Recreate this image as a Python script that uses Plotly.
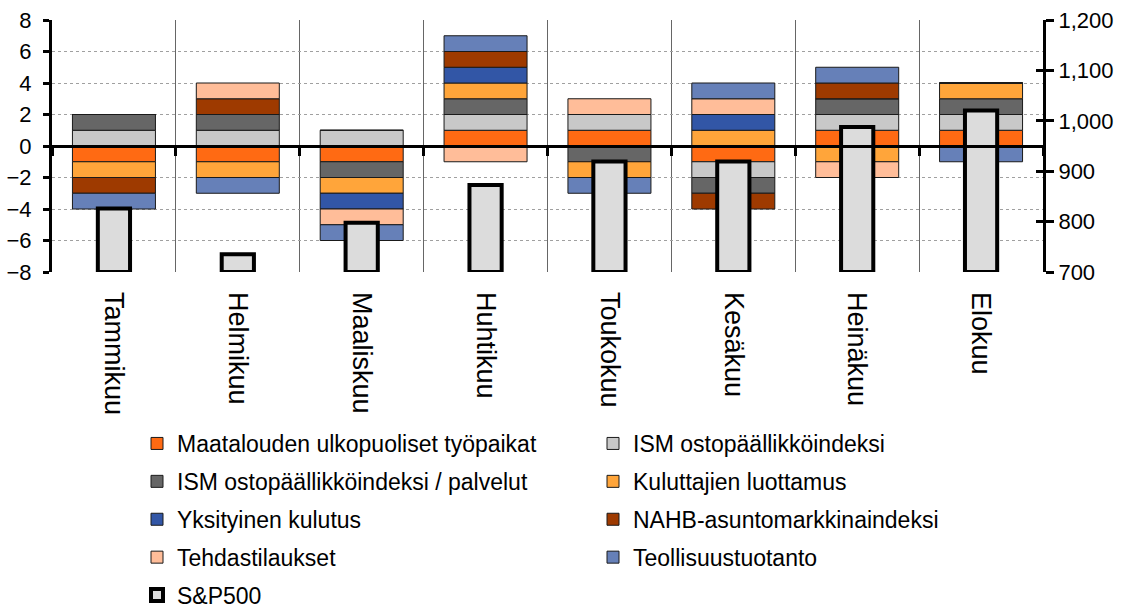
import plotly.graph_objects as go

# Months
months = ["Tammikuu", "Helmikuu", "Maaliskuu", "Huhtikuu",
          "Toukokuu", "Kesäkuu", "Heinäkuu", "Elokuu"]

# Surprise direction of each indicator per month (+1 / -1 / 0)
maatalouden = [-1, -1, -1, 1, 1, -1, 1, 1]
ism = [1, 1, 1, 1, 1, -1, 1, 1]
ism_palvelut = [1, 1, -1, 1, -1, -1, 1, 1]
kuluttajat = [-1, -1, -1, 1, -1, 1, -1, 1]
yksityinen = [0, 0, -1, 1, 0, 1, 0, 0]
nahb = [-1, 1, 0, 1, 0, -1, 1, 0]
tehdas = [0, 1, -1, -1, 1, 1, -1, 0]
teollisuus = [-1, -1, -1, 1, -1, 1, 1, -1]

# S&P500 month-end level (right axis)
sp500 = [825.88, 735.09, 797.87, 872.81, 919.14, 919.32, 987.48, 1020.62]
sp_base = 700

series = [
    ("Maatalouden ulkopuoliset työpaikat", maatalouden, "#FF6A13", "legend"),
    ("ISM ostopäällikköindeksi", ism, "#C8C8C8", "legend2"),
    ("ISM ostopäällikköindeksi / palvelut", ism_palvelut, "#666666", "legend"),
    ("Kuluttajien luottamus", kuluttajat, "#FFA53A", "legend2"),
    ("Yksityinen kulutus", yksityinen, "#3256A6", "legend"),
    ("NAHB-asuntomarkkinaindeksi", nahb, "#9E3A00", "legend2"),
    ("Tehdastilaukset", tehdas, "#FFBD99", "legend"),
    ("Teollisuustuotanto", teollisuus, "#6680B8", "legend2"),
]

FONT = "Liberation Sans, Arial, sans-serif"
W, H = 1128, 611

fig = go.Figure()
for i, (name, vals, color, leg) in enumerate(series):
    fig.add_trace(go.Bar(
        x=months, y=vals, name=name, width=0.67,
        marker=dict(color=color, line=dict(color="#1a1a1a", width=1)),
        legend=leg, legendgroup=f"g{i}",
    ))

fig.add_trace(go.Bar(
    x=months, y=[v - sp_base for v in sp500], base=sp_base,
    name="S&P500", width=0.26,
    marker=dict(color="#DCDCDC", line=dict(color="black", width=4)),
    xaxis="x2", yaxis="y2", legend="legend", legendgroup="sp",
))

# Invisible carrier for the inner half of the right-axis cross ticks
fig.add_trace(go.Scatter(
    x=months, y=sp500, mode="markers", marker=dict(opacity=0),
    xaxis="x2", yaxis="y3", showlegend=False, hoverinfo="skip",
))

legend_common = dict(
    xref="container", yref="container", xanchor="left", yanchor="top",
    orientation="v", tracegroupgap=5,
    font=dict(size=23), bgcolor="rgba(0,0,0,0)",
)

fig.update_layout(
    width=W, height=H,
    margin=dict(l=52, r=85, t=20, b=339, autoexpand=False),
    barmode="relative",
    plot_bgcolor="white", paper_bgcolor="white",
    font=dict(family=FONT, size=22, color="black"),
    xaxis=dict(
        type="category", categoryorder="array", categoryarray=months,
        tickson="boundaries", showgrid=True, gridcolor="#666666", gridwidth=1,
        ticks="", showline=False, tickangle=90, ticklabelstandoff=19,
        tickfont=dict(size=27), range=[-0.5, 7.5], automargin=False,
    ),
    xaxis2=dict(
        type="category", categoryorder="array", categoryarray=months,
        overlaying="x", anchor="free", position=0.5, side="bottom",
        tickson="boundaries", ticks="outside", ticklen=8, tickwidth=3,
        tickcolor="black", showticklabels=False, showgrid=False,
        showline=True, linewidth=3, linecolor="black", range=[-0.5, 7.5],
    ),
    yaxis=dict(
        range=[-8, 8], dtick=2, showgrid=True, gridcolor="#a0a0a0",
        griddash="3px,3px", gridwidth=1, zeroline=False,
        showline=True, linewidth=3, linecolor="black",
        ticks="outside", ticklen=6, tickwidth=3, tickcolor="black",
        ticklabelstandoff=7, tickfont=dict(size=22), automargin=False,
    ),
    yaxis2=dict(
        range=[700, 1200], dtick=100, overlaying="y", side="right",
        anchor="x", showgrid=False, zeroline=False,
        showline=True, linewidth=3, linecolor="black",
        ticks="outside", ticklen=8, tickwidth=3, tickcolor="black",
        tickformat=",d", tickfont=dict(size=22), automargin=False,
    ),
    yaxis3=dict(
        range=[700, 1200], dtick=100, overlaying="y", side="right",
        anchor="x", showgrid=False, zeroline=False, showline=False,
        ticks="inside", ticklen=7, tickwidth=3, tickcolor="black",
        showticklabels=False, automargin=False,
    ),
    legend=dict(x=137 / W, y=1 - 422 / H, **legend_common),
    legend2=dict(x=593 / W, y=1 - 422 / H, **legend_common),
)

fig.write_html("out.html")
